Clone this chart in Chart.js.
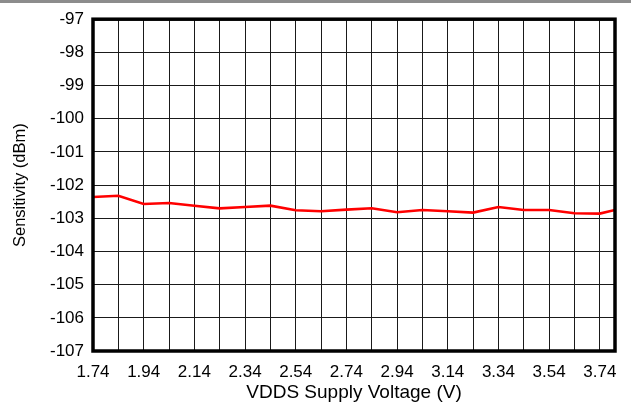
<!DOCTYPE html>
<html>
<head>
<meta charset="utf-8">
<script src="https://cdn.jsdelivr.net/npm/chart.js@4/dist/chart.umd.min.js"></script>
<style>
  html, body { margin: 0; padding: 0; background: #fff; }
  #wrap { position: relative; width: 631px; height: 402px; }
  #topbar { position: absolute; left: 0; top: 0; width: 631px; height: 3px; background: #8c8c8c; z-index: 2; }
  canvas { display: block; }
</style>
</head>
<body>
<div id="wrap">
  <div id="topbar"></div>
  <canvas id="c" width="631" height="402"></canvas>
</div>
<script>
// Data
const voltages = [1.74, 1.84, 1.94, 2.04, 2.14, 2.24, 2.34, 2.44, 2.54, 2.64, 2.74, 2.84, 2.94, 3.04, 3.14, 3.24, 3.34, 3.44, 3.54, 3.64, 3.74, 3.80];
const sensitivity = [-102.36, -102.32, -102.57, -102.54, -102.62, -102.70, -102.66, -102.62, -102.76, -102.79, -102.74, -102.70, -102.82, -102.75, -102.79, -102.83, -102.66, -102.75, -102.75, -102.85, -102.86, -102.75];
const xGridTicks = [1.74, 1.84, 1.94, 2.04, 2.14, 2.24, 2.34, 2.44, 2.54, 2.64, 2.74, 2.84, 2.94, 3.04, 3.14, 3.24, 3.34, 3.44, 3.54, 3.64, 3.74];
const xLabelTicks = [1.74, 1.94, 2.14, 2.34, 2.54, 2.74, 2.94, 3.14, 3.34, 3.54, 3.74];
const yTicks = [-107, -106, -105, -104, -103, -102, -101, -100, -99, -98, -97];
const xTitle = 'VDDS Supply Voltage (V)';
const yTitle = 'Sensitivity (dBm)';

const FONT = '"Liberation Sans", Arial, sans-serif';

const framePlugin = {
  id: 'frame',
  afterDatasetsDraw(chart) {
    const a = chart.chartArea;
    const ctx = chart.ctx;
    ctx.save();
    ctx.strokeStyle = '#000';
    ctx.lineWidth = 3.5;
    ctx.strokeRect(a.left, a.top, a.right - a.left, a.bottom - a.top);
    ctx.restore();
  }
};

new Chart(document.getElementById('c'), {
  type: 'line',
  data: {
    datasets: [{
      data: voltages.map((v, i) => ({ x: v, y: sensitivity[i] })),
      borderColor: '#ff0000',
      borderWidth: 2.6,
      pointRadius: 0,
      tension: 0,
      fill: false
    }]
  },
  options: {
    responsive: false,
    animation: false,
    devicePixelRatio: 1,
    layout: { padding: { left: 0, right: 16, top: 18, bottom: 0 } },
    plugins: { legend: { display: false }, tooltip: { enabled: false } },
    scales: {
      x: {
        type: 'linear',
        min: 1.74,
        max: 3.80,
        afterBuildTicks(scale) { scale.ticks = xGridTicks.map(v => ({ value: v })); },
        afterFit(scale) { scale.height = 51; },
        grid: { color: '#1a1a1a', lineWidth: 1, drawTicks: false },
        border: { display: false },
        ticks: {
          autoSkip: false,
          maxRotation: 0,
          padding: 11,
          color: '#000',
          font: { family: FONT, size: 17 },
          callback(value) {
            return xLabelTicks.some(t => Math.abs(t - value) < 1e-6) ? value.toFixed(2) : '';
          }
        },
        title: {
          display: true,
          text: xTitle,
          color: '#000',
          font: { family: FONT, size: 19, lineHeight: 1 },
          padding: { top: 0, bottom: 0 }
        }
      },
      y: {
        type: 'linear',
        min: -107,
        max: -97,
        afterBuildTicks(scale) { scale.ticks = yTicks.map(v => ({ value: v })); },
        afterFit(scale) { scale.width = 93; },
        grid: { color: '#1a1a1a', lineWidth: 1, drawTicks: false },
        border: { display: false },
        ticks: {
          autoSkip: false,
          padding: 9,
          color: '#000',
          font: { family: FONT, size: 17 },
          callback(value) { return String(value); }
        },
        title: {
          display: true,
          text: yTitle,
          color: '#000',
          font: { family: FONT, size: 16.5 },
          padding: { top: 11, bottom: 0 }
        }
      }
    }
  },
  plugins: [framePlugin]
});
</script>
</body>
</html>
